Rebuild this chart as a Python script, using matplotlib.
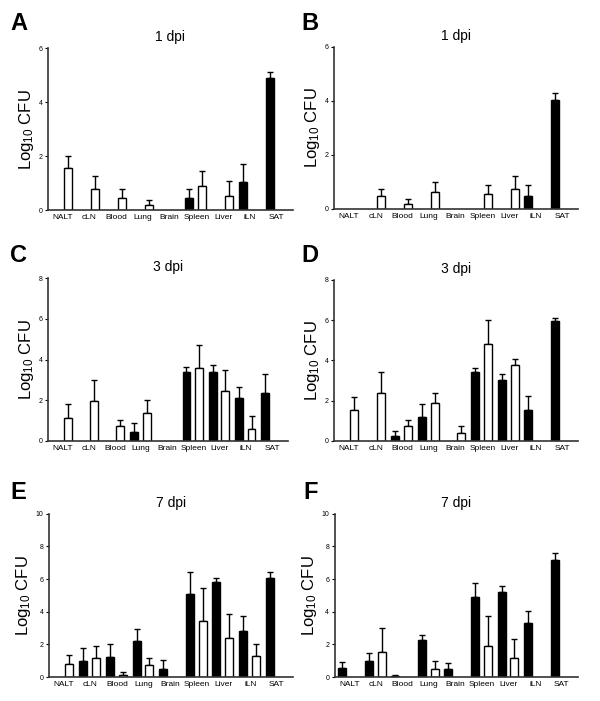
import numpy as np
import matplotlib.pyplot as plt

plt.rcParams['font.family'] = ['Liberation Sans', 'DejaVu Sans']
plt.rcParams['mathtext.default'] = 'regular'

tissues = ['NALT', 'cLN', 'Blood', 'Lung', 'Brain', 'Spleen', 'Liver', 'iLN', 'SAT']

# mean values (black = filled bars, white = open bars); nan = no bar
# and top of error bar for each
a_black = [np.nan, np.nan, np.nan, np.nan, np.nan, 0.45, np.nan, 1.05, 4.89]
a_black_err = [np.nan, np.nan, np.nan, np.nan, np.nan, 0.78, np.nan, 1.72, 5.14]
a_white = [1.55, 0.79, 0.46, 0.20, np.nan, 0.90, 0.54, np.nan, np.nan]
a_white_err = [2.02, 1.27, 0.78, 0.37, np.nan, 1.46, 1.08, np.nan, np.nan]

b_black = [np.nan, np.nan, np.nan, np.nan, np.nan, np.nan, np.nan, 0.47, 4.02]
b_black_err = [np.nan, np.nan, np.nan, np.nan, np.nan, np.nan, np.nan, 0.90, 4.30]
b_white = [np.nan, 0.47, 0.20, 0.62, np.nan, 0.57, 0.75, np.nan, np.nan]
b_white_err = [np.nan, 0.75, 0.37, 0.99, np.nan, 0.90, 1.21, np.nan, np.nan]

c_black = [np.nan, np.nan, np.nan, 0.43, np.nan, 3.38, 3.37, 2.10, 2.36]
c_black_err = [np.nan, np.nan, np.nan, 0.87, np.nan, 3.65, 3.73, 2.66, 3.27]
c_white = [1.12, 1.97, 0.74, 1.35, np.nan, 3.60, 2.45, 0.61, np.nan]
c_white_err = [1.81, 2.99, 1.02, 1.99, np.nan, 4.73, 3.48, 1.22, np.nan]

d_black = [np.nan, np.nan, 0.25, 1.17, np.nan, 3.40, 3.02, 1.53, 5.97]
d_black_err = [np.nan, np.nan, 0.51, 1.83, np.nan, 3.63, 3.32, 2.23, 6.12]
d_white = [1.52, 2.36, 0.73, 1.90, 0.40, 4.82, 3.78, np.nan, np.nan]
d_white_err = [2.18, 3.40, 1.06, 2.38, 0.74, 6.02, 4.08, np.nan, np.nan]

e_black = [np.nan, 1.02, 1.23, 2.19, 0.51, 5.12, 5.82, 2.83, 6.09]
e_black_err = [np.nan, 1.80, 2.05, 2.97, 1.07, 6.45, 6.09, 3.73, 6.43]
e_white = [0.82, 1.17, 0.16, 0.74, np.nan, 3.46, 2.42, 1.29, np.nan]
e_white_err = [1.33, 1.89, 0.29, 1.17, np.nan, 5.47, 3.85, 2.01, np.nan]

f_black = [0.55, 1.02, 0.10, 2.25, 0.49, 4.92, 5.20, 3.34, 7.15]
f_black_err = [0.90, 1.48, 0.16, 2.60, 0.86, 5.78, 5.59, 4.06, 7.60]
f_white = [np.nan, 1.52, np.nan, 0.51, np.nan, 1.89, 1.17, np.nan, np.nan]
f_white_err = [np.nan, 3.01, np.nan, 1.00, np.nan, 3.73, 2.32, np.nan, np.nan]

panels = [
    ('A', '1 dpi', 6, a_black, a_black_err, a_white, a_white_err),
    ('B', '1 dpi', 6, b_black, b_black_err, b_white, b_white_err),
    ('C', '3 dpi', 8, c_black, c_black_err, c_white, c_white_err),
    ('D', '3 dpi', 8, d_black, d_black_err, d_white, d_white_err),
    ('E', '7 dpi', 10, e_black, e_black_err, e_white, e_white_err),
    ('F', '7 dpi', 10, f_black, f_black_err, f_white, f_white_err),
]

# axes boxes in figure fractions: left, bottom, width, height
boxes = [
    (0.080, 0.700, 0.408, 0.231),
    (0.557, 0.702, 0.407, 0.231),
    (0.080, 0.371, 0.400, 0.232),
    (0.557, 0.371, 0.407, 0.230),
    (0.082, 0.034, 0.406, 0.233),
    (0.558, 0.034, 0.405, 0.233),
]
letter_pos = [(0.017, 0.967), (0.503, 0.967), (0.017, 0.636), (0.503, 0.636),
              (0.017, 0.298), (0.505, 0.298)]

fig = plt.figure(figsize=(6, 7.01), dpi=100)
x = np.arange(len(tissues))
w = 0.30

for (letter, title, ymax, bk, bk_top, wh, wh_top), box, lp in zip(panels, boxes, letter_pos):
    ax = fig.add_axes(box)
    for vals, tops, off, col in [(bk, bk_top, -0.27, 'black'), (wh, wh_top, 0.21, 'white')]:
        vals = np.array(vals)
        tops = np.array(tops)
        ok = ~np.isnan(vals)
        ax.bar(x[ok] + off, vals[ok], width=w, color=col, edgecolor='black',
               linewidth=1.0, zorder=2)
        up = tops[ok] - vals[ok]
        ax.errorbar(x[ok] + off, vals[ok], yerr=[np.zeros(ok.sum()), up],
                    fmt='none', ecolor='black', elinewidth=1.0, capsize=2.2,
                    capthick=1.0, zorder=1)
    ax.set_xlim(-0.55, 8.6)
    ax.set_ylim(0, ymax)
    ax.set_yticks(np.arange(0, ymax + 1, 2))
    ax.set_xticks(x)
    ax.set_xticklabels(tissues, fontsize=6)
    ax.tick_params(axis='x', length=0, pad=3)
    ax.tick_params(axis='y', labelsize=5, length=2.5, width=0.8, pad=1.5)
    for s in ['top', 'right']:
        ax.spines[s].set_visible(False)
    for s in ['left', 'bottom']:
        ax.spines[s].set_color('#333333')
        ax.spines[s].set_linewidth(1.2)
    ax.set_title(title, fontsize=10, pad=5)
    ax.set_ylabel('Log$_{10}$ CFU', fontsize=12, labelpad=2)
    fig.text(lp[0], lp[1], letter, fontsize=17, fontweight='bold',
             va='center', ha='left')

fig.savefig('out.png', dpi=100)
